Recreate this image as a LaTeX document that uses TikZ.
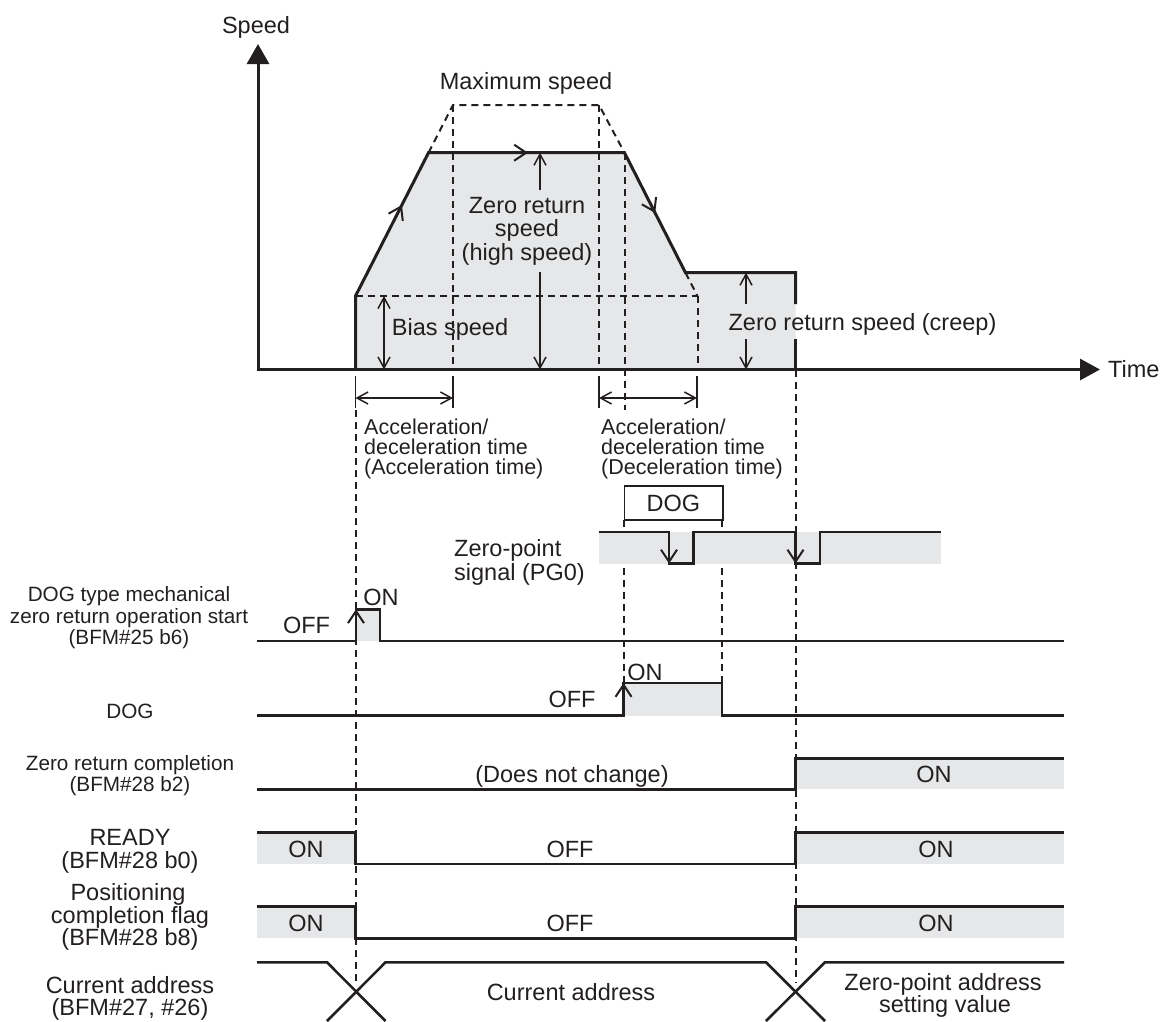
\documentclass[tikz,border=0pt]{standalone}
\usepackage{fontspec}
\setmainfont{Liberation Sans}
\usetikzlibrary{arrows.meta}
\definecolor{ink}{HTML}{231F20}
\definecolor{shadegray}{HTML}{E6E7E8}
\tikzset{
  txt/.style={font=\fontsize{23.5}{26}\selectfont, text=ink, inner sep=0pt, anchor=base},
  txts/.style={font=\fontsize{20.7}{22}\selectfont, text=ink, inner sep=0pt, anchor=base},
  txta/.style={font=\fontsize{21.5}{22}\selectfont, text=ink, inner sep=0pt, anchor=base west},
  sigline/.style={draw=ink, line width=2.6pt, line join=miter},
  prof/.style={draw=ink, line width=3pt, line join=miter},
  axisline/.style={draw=ink, line width=3pt, line join=miter},
  dsh/.style={draw=ink, line width=2pt, dash pattern=on 7pt off 5pt},
  thinline/.style={draw=ink, line width=1.5pt},
  barb/.style={thinline, -{Straight Barb[length=11pt,width=12pt]}},
  dbarb/.style={thinline, {Straight Barb[length=11pt,width=12pt]}-{Straight Barb[length=11pt,width=12pt]}},
  dirarrow/.style={draw=ink, line width=2pt, -{Straight Barb[length=12pt,width=16pt]}},
  shadefill/.style={fill=shadegray, draw=none},
}
\begin{document}
\begin{tikzpicture}[x=1pt,y=-1pt]
\useasboundingbox (0,0) rectangle (1166,1021);

% ---------------- key coordinates ----------------
\coordinate (ax0) at (258,369.5);
\coordinate (p0) at (355.5,369.5);
\coordinate (p1) at (355.5,296);
\coordinate (p2) at (428.5,152.7);
\coordinate (p3) at (624.5,152.7);
\coordinate (p4) at (685.5,272.7);
\coordinate (p5) at (795.5,272.7);
\coordinate (p6) at (795.5,369.5);
\coordinate (m1) at (453,105);
\coordinate (m2) at (599,105);
\coordinate (b2) at (697.5,296);

% ---------------- speed chart ----------------
\fill[shadefill] (p0) -- (p1) -- (p2) -- (p3) -- (p4) -- (p5) -- (p6) -- cycle;

\draw[dsh] (p2) -- (m1) -- (m2) -- (p3);
\draw[dsh] (p4) -- (b2);
\draw[dsh] (p1) -- (b2);
\draw[dsh] (m1) -- (453,369.5);
\draw[dsh] (m2) -- (599,369.5);
\draw[dsh] (p3) -- (624.5,410);
\draw[dsh] (b2) -- (697.5,369.5);

\draw[prof] (p0) -- (p1) -- (p2) -- (p3) -- (p4) -- (p5) -- (795.5,304);
\draw[prof] (795.5,339) -- (p6);

\draw[axisline, {Triangle[length=20pt,width=22pt]}-{Triangle[length=20pt,width=21pt]}]
  (258,44) -- (ax0) -- (1100,369.5);

\node[txt] (speedlbl) at (256,33) {Speed};
\node[txt, anchor=base west] (timelbl) at (1108,377) {Time};
\node[txt] (maxlbl) at (526,89) {Maximum speed};
\node[txt] (hs1) at (527,213) {Zero return};
\node[txt] (hs2) at (527,236.5) {speed};
\node[txt] (hs3) at (527,260) {(high speed)};
\node[txt] (biaslbl) at (450,335) {Bias speed};
\node[txt] (creeplbl) at (862.5,330) {Zero return speed (creep)};

% direction arrows on the profile
\draw[dirarrow] (395.9,216.8) -- (401.9,205);
\draw[dirarrow] (512,152.7) -- (528,152.7);
\draw[dirarrow] (649.2,201.2) -- (655.2,213);

% speed arrows
\draw[barb] (540,190) -- (540,152.7);
\draw[barb] (540,272) -- (540,369.5);
\draw[dbarb] (384,296) -- (384,369.5);
\draw[barb] (746,304) -- (746,272.7);
\draw[barb] (746,339) -- (746,369.5);

% time dimensions
\draw[thinline] (355.5,376) -- (355.5,408);
\draw[thinline] (453,376) -- (453,408);
\draw[thinline] (599,376) -- (599,408);
\draw[thinline] (697,376) -- (697,408);
\draw[dbarb] (355.5,398) -- (453,398);
\draw[dbarb] (599,398) -- (697,398);

\node[txta] (acc1) at (364,434) {Acceleration/};
\node[txta] (acc2) at (364,454) {deceleration time};
\node[txta] (acc3) at (364,474) {(Acceleration time)};
\node[txta] (dec1) at (601,434) {Acceleration/};
\node[txta] (dec2) at (601,454) {deceleration time};
\node[txta] (dec3) at (601,474) {(Deceleration time)};

% long dashed guides
\draw[dsh] (355.5,410) -- (355.5,985);
\draw[dsh] (p6) -- (795.5,982);

% ---------------- DOG box and zero-point signal ----------------
\node[draw=ink, line width=1.5pt, minimum width=98.5pt, minimum height=34.3pt, inner sep=0pt,
      font=\fontsize{23.5}{26}\selectfont, text=ink] (dogbox) at (673.5,503) {DOG};
\draw[dsh] (623.5,520) -- (623.5,683);
\draw[dsh] (722,520) -- (722,683);

\fill[shadefill] (599,532) rectangle (941,563.5);
\draw[sigline] (599,532) -- (669,532) -- (669,563.5) -- (693.5,563.5) -- (693.5,532)
  -- (795.5,532) -- (795.5,563.5) -- (820,563.5) -- (820,532) -- (941,532);
\draw[dirarrow] (669,545) -- (669,563.5);
\draw[dirarrow] (795.5,545) -- (795.5,563.5);
\node[txt, anchor=base west] (zp1) at (454,556) {Zero-point};
\node[txt, anchor=base west] (zp2) at (454,580) {signal (PG0)};

% ---------------- start signal ----------------
\node[txts] (st1) at (129,601.5) {DOG type mechanical};
\node[txts] (st2) at (129,623) {zero return operation start};
\node[txts] (st3) at (129,644.5) {(BFM\#25 b6)};
\fill[shadefill] (356,609.3) rectangle (380,641);
\draw[sigline] (257,641) -- (356,641) -- (356,609.3) -- (380,609.3) -- (380,641) -- (1064,641);
\draw[dirarrow] (356,628) -- (356,609.3);
\node[txt] (ston) at (381,605) {ON};
\node[txt] (stoff) at (306.5,633) {OFF};

% ---------------- DOG signal ----------------
\node[txts] (doglbl) at (130,718) {DOG};
\fill[shadefill] (623.5,683) rectangle (722,715.5);
\draw[sigline] (257,715.5) -- (623.5,715.5) -- (623.5,683) -- (722,683) -- (722,715.5) -- (1064,715.5);
\draw[dirarrow] (623.5,702) -- (623.5,683);
\node[txt] (dogon) at (645,680) {ON};
\node[txt] (dogoff) at (572,707) {OFF};

% ---------------- zero return completion ----------------
\node[txts] (zr1) at (130,770) {Zero return completion};
\node[txts] (zr2) at (130,791) {(BFM\#28 b2)};
\fill[shadefill] (795.5,758.3) rectangle (1064,789.3);
\draw[sigline] (257,789.3) -- (795.5,789.3) -- (795.5,758.3) -- (1064,758.3);
\node[txt] (zrnc) at (572,782) {(Does not change)};
\node[txt] (zron) at (934,782) {ON};

% ---------------- READY ----------------
\node[txt] (rd1) at (130,845) {READY};
\node[txt] (rd2) at (130,868.5) {(BFM\#28 b0)};
\fill[shadefill] (257,832.7) rectangle (355.5,864);
\fill[shadefill] (795.5,832.7) rectangle (1064,864);
\draw[sigline] (257,832.7) -- (355.5,832.7) -- (355.5,864) -- (795.5,864) -- (795.5,832.7) -- (1064,832.7);
\node[txt] (rdon1) at (306,857.5) {ON};
\node[txt] (rdoff) at (570,857.5) {OFF};
\node[txt] (rdon2) at (936,857.5) {ON};

% ---------------- positioning completion ----------------
\node[txt] (pc1) at (128,900) {Positioning};
\node[txt] (pc2) at (130,923) {completion flag};
\node[txt] (pc3) at (130,945) {(BFM\#28 b8)};
\fill[shadefill] (257,906.7) rectangle (355.5,938.3);
\fill[shadefill] (795.5,906.7) rectangle (1064,938.3);
\draw[sigline] (257,906.7) -- (355.5,906.7) -- (355.5,938.3) -- (795.5,938.3) -- (795.5,906.7) -- (1064,906.7);
\node[txt] (pcon1) at (306,931.5) {ON};
\node[txt] (pcoff) at (570,931.5) {OFF};
\node[txt] (pcon2) at (936,931.5) {ON};

% ---------------- current address ----------------
\node[txt] (ca1) at (130,993.5) {Current address};
\node[txt] (ca2) at (130,1015) {(BFM\#27, \#26)};
\draw[sigline] (257,962.3) -- (327,962.3) -- (385.5,1021);
\draw[sigline] (327,1021) -- (385.5,962.3) -- (766,962.3) -- (825,1021);
\draw[sigline] (766,1021) -- (825,962.3) -- (1064,962.3);
\node[txt] (cam) at (571,1000) {Current address};
\node[txt] (zpa1) at (943,990) {Zero-point address};
\node[txt] (zpa2) at (945,1012.5) {setting value};
\end{tikzpicture}
\end{document}
